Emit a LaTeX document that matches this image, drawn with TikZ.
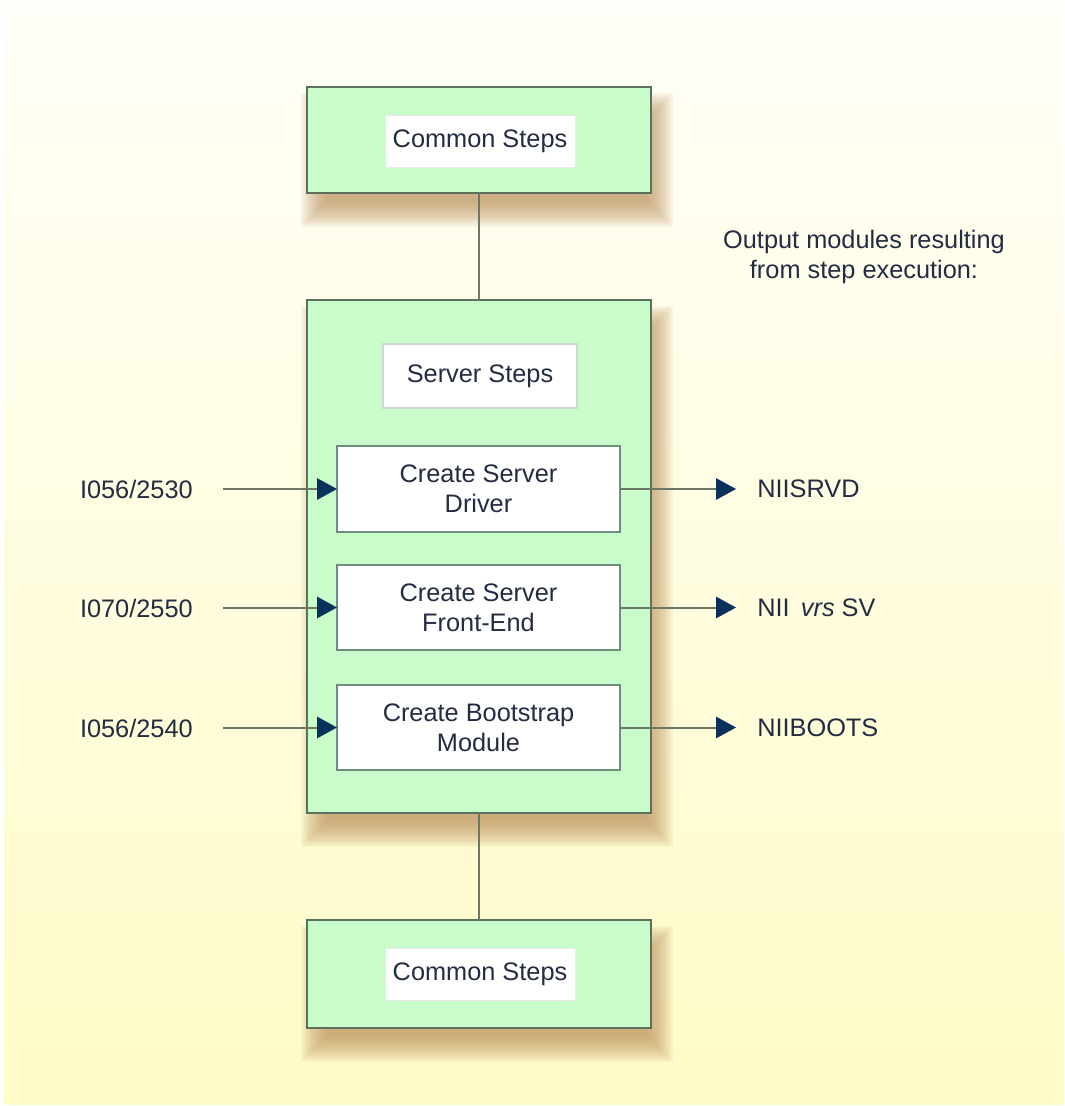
\documentclass[tikz,border=0pt]{standalone}
\usepackage{fontspec}
\setmainfont{Liberation Sans}
\usetikzlibrary{arrows.meta}
\definecolor{bgtop}{RGB}{255,254,248}
\definecolor{bgbot}{RGB}{255,252,200}
\definecolor{boxgreen}{RGB}{200,252,202}
\definecolor{boxborder}{RGB}{92,112,94}
\definecolor{innerborder}{RGB}{112,140,126}
\definecolor{linec}{RGB}{108,120,100}
\definecolor{navy}{RGB}{10,48,92}
\definecolor{textc}{RGB}{36,44,66}
\definecolor{shadowc}{RGB}{190,150,98}
\newcommand\dropshadow[4]{%
  \foreach \k in {0,...,13}{%
    \fill[shadowc, opacity=0.09] (#1+8-14+2*\k, #2+20-14+2*\k) rectangle (#3+8+14-2*\k, #4+20+14-2*\k);
  }}
\tikzset{
  greenbox/.style={draw=boxborder, line width=1.8pt, fill=boxgreen, inner sep=0pt, outer sep=0pt, minimum width=258pt},
  stepbox/.style={draw=innerborder, line width=1.4pt, fill=white, inner sep=0pt, outer sep=0pt,
     minimum width=212.25pt, minimum height=64pt, align=center, text=textc, font=\fontsize{19}{22.5}\selectfont},
  titlebox/.style={draw=black!8, line width=0.6pt, fill=white, inner sep=0pt, text=textc, font=\fontsize{19}{22.5}\selectfont},
  lbl/.style={text=textc, font=\fontsize{19}{22.5}\selectfont, inner sep=0pt},
  conn/.style={draw=linec, line width=1.5pt},
  arr/.style={conn, -{Triangle[length=15pt, width=16pt, color=navy]}},
}
\begin{document}
\begin{tikzpicture}[x=0.75pt, y=-0.75pt]
\useasboundingbox (0,0) rectangle (1064,1106);
\fill[white] (0,0) rectangle (1064,1106);
\shade[top color=bgtop, bottom color=bgbot] (4,0) rectangle (1064,1104);

% shadows
\dropshadow{307}{87}{651}{193}
\dropshadow{307}{300}{651}{813}
\dropshadow{307}{920}{651}{1028}

% boxes
\node[greenbox, minimum height=79.5pt] (top) at (479,140) {};
\node[titlebox, minimum width=142.5pt, minimum height=39pt] (toplbl) at (480,141) {Common Steps};

\node[greenbox, minimum height=384.75pt] (server) at (479,556.5) {};
\node[titlebox, draw=innerborder!35, line width=1pt, minimum width=145.5pt, minimum height=48pt] (serverlbl) at (480,376) {Server Steps};

\node[stepbox] (drv) at (478.5,489) {Create Server\\Driver};
\node[stepbox] (fe) at (478.5,607.5) {Create Server\\Front-End};
\node[stepbox] (boot) at (478.5,727.5) {Create Bootstrap\\Module};

\node[greenbox, minimum height=81pt] (bottom) at (479,974) {};
\node[titlebox, minimum width=142.5pt, minimum height=39pt] (botlbl) at (480,974) {Common Steps};

% vertical connectors
\draw[conn] (top.south) -- (server.north);
\draw[conn] (server.south) -- (bottom.north);

% inputs
\node[lbl, anchor=east] (in1lbl) at (193,489) {I056/2530};
\node[lbl, anchor=east] (in2lbl) at (193,608) {I070/2550};
\node[lbl, anchor=east] (in3lbl) at (193,728) {I056/2540};
\coordinate (in1) at (223,489);
\coordinate (in2) at (223,607.5);
\coordinate (in3) at (223,727.5);
\draw[arr] (in1) -- (drv.west);
\draw[arr] (in2) -- (fe.west);
\draw[arr] (in3) -- (boot.west);

% outputs
\coordinate (out1) at (736,489);
\coordinate (out2) at (736,607.5);
\coordinate (out3) at (736,727.5);
\draw[arr] (drv.east) -- (out1);
\draw[arr] (fe.east) -- (out2);
\draw[arr] (boot.east) -- (out3);
\node[lbl, anchor=west] (o1) at (757,489) {NIISRVD};
\node[lbl, anchor=west] (o2) at (757,608) {NII \,\textit{vrs} SV};
\node[lbl, anchor=west] (o3) at (757,728) {NIIBOOTS};

\node[lbl, align=center] (note) at (864,257) {Output modules resulting\\from step execution:};
\end{tikzpicture}
\end{document}
